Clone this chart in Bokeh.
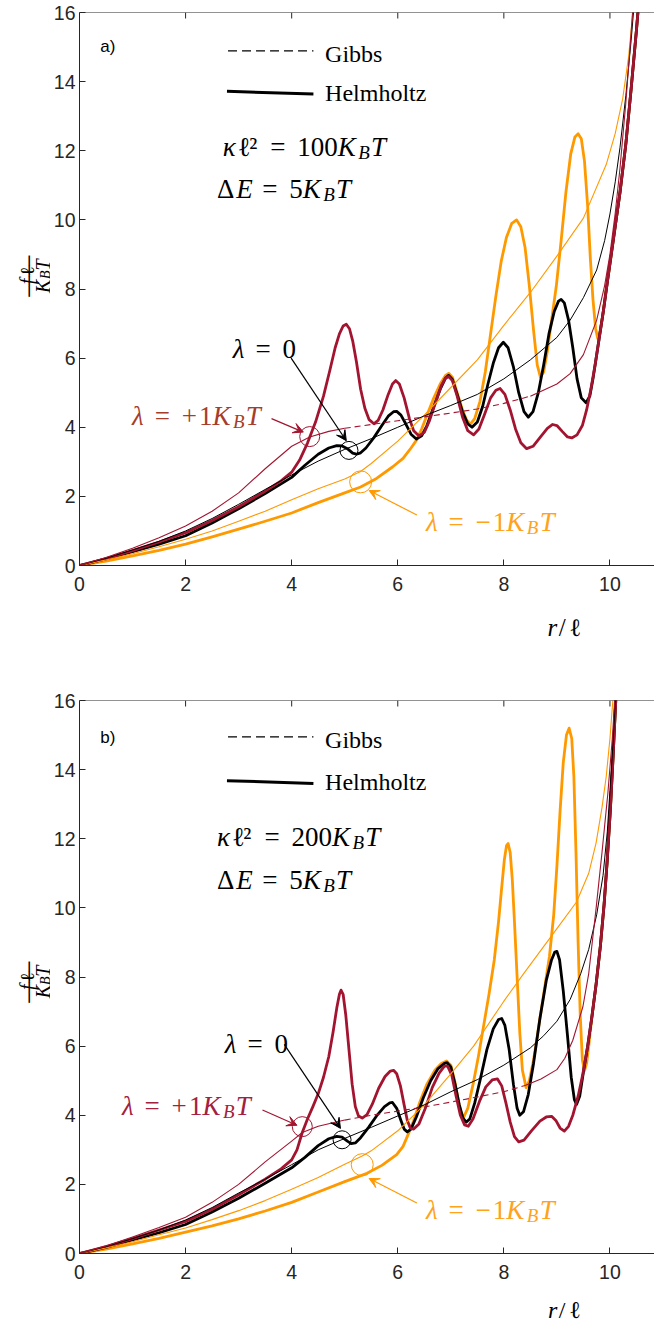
import math
from bokeh.plotting import figure
from bokeh.models import Range1d, Label, Span, Arrow, VeeHead, FixedTicker
from bokeh.layouts import column, row
from bokeh.embed import file_html
from bokeh.resources import INLINE

CRIMSON = "#A2142F"
ORANGE = "#FF9900"
AX = "#262626"
X_END = 10.84
FRAME_W = 578
FRAME_H = 553
XS = FRAME_W / X_END
YS = FRAME_H / 16.0

# ---------------- data ----------------
x_ticks = [0, 2, 4, 6, 8, 10]
y_ticks = [0, 2, 4, 6, 8, 10, 12, 14, 16]

# panel a  (kappa l^2 = 100 KBT)
a_helm_pos = [(0,0),(0.5,0.2),(1,0.43),(1.5,0.68),(2,0.95),(2.5,1.3),(3,1.7),(3.5,2.15),(3.8,2.45),(4.0,2.7),(4.15,3.05),(4.3,3.55),(4.45,4.15),(4.6,4.9),(4.72,5.65),(4.82,6.3),(4.9,6.7),(4.97,6.93),(5.03,6.98),(5.09,6.85),(5.15,6.5),(5.22,5.9),(5.3,5.1),(5.38,4.55),(5.46,4.22),(5.55,4.1),(5.63,4.2),(5.72,4.5),(5.82,4.95),(5.9,5.25),(5.96,5.35),(6.03,5.25),(6.12,4.85),(6.22,4.25),(6.3,3.9),(6.4,3.75),(6.5,3.85),(6.6,4.2),(6.72,4.75),(6.82,5.2),(6.9,5.42),(6.96,5.47),(7.03,5.35),(7.12,4.9),(7.22,4.3),(7.32,3.9),(7.43,3.78),(7.53,3.95),(7.63,4.35),(7.75,4.85),(7.85,5.07),(7.93,5.12),(8.02,4.95),(8.12,4.5),(8.22,3.95),(8.32,3.55),(8.43,3.38),(8.55,3.45),(8.68,3.7),(8.82,3.97),(8.92,4.08),(9.0,4.05),(9.1,3.88),(9.2,3.72),(9.28,3.69),(9.38,3.78),(9.48,4.05),(9.56,4.5),(9.64,5.1),(9.72,5.8),(9.8,6.6),(9.88,7.4),(9.96,8.3),(10.08,9.6),(10.19,10.8),(10.3,12.2),(10.4,13.8),(10.5,15.5),(10.56,16.6)]
a_helm_zero = [(0,0),(0.5,0.19),(1,0.4),(1.5,0.62),(2,0.86),(2.5,1.23),(3,1.64),(3.5,2.08),(4.0,2.55),(4.25,2.9),(4.5,3.22),(4.7,3.4),(4.85,3.47),(4.95,3.46),(5.05,3.38),(5.15,3.25),(5.22,3.22),(5.3,3.26),(5.4,3.4),(5.55,3.7),(5.7,4.05),(5.82,4.32),(5.92,4.45),(5.98,4.46),(6.06,4.35),(6.15,4.1),(6.25,3.8),(6.35,3.66),(6.45,3.75),(6.55,4.05),(6.68,4.6),(6.8,5.1),(6.9,5.42),(6.96,5.5),(7.03,5.38),(7.12,4.95),(7.22,4.45),(7.32,4.1),(7.4,4.0),(7.5,4.15),(7.6,4.6),(7.7,5.25),(7.8,5.85),(7.9,6.3),(7.99,6.46),(8.08,6.3),(8.18,5.75),(8.28,5.0),(8.38,4.45),(8.46,4.29),(8.55,4.45),(8.65,5.0),(8.75,5.8),(8.85,6.7),(8.95,7.35),(9.03,7.65),(9.08,7.7),(9.14,7.6),(9.22,7.1),(9.3,6.3),(9.38,5.4),(9.46,4.85),(9.55,4.71),(9.62,4.9),(9.68,5.4),(9.75,6.1),(9.82,6.8),(9.88,7.4),(9.96,8.3),(10.08,9.6),(10.19,10.8),(10.3,12.2),(10.4,13.8),(10.5,15.5),(10.56,16.6)]
a_helm_neg = [(0,0),(0.5,0.13),(1,0.28),(1.5,0.44),(2,0.62),(2.5,0.83),(3,1.05),(3.5,1.28),(4.0,1.52),(4.5,1.82),(5.0,2.1),(5.3,2.27),(5.6,2.52),(5.9,2.85),(6.1,3.1),(6.25,3.4),(6.35,3.62),(6.45,3.95),(6.55,4.35),(6.68,4.85),(6.8,5.25),(6.9,5.5),(6.96,5.56),(7.03,5.45),(7.12,5.0),(7.22,4.5),(7.3,4.2),(7.37,4.09),(7.45,4.25),(7.55,4.75),(7.65,5.6),(7.75,6.7),(7.85,7.8),(7.95,8.8),(8.05,9.5),(8.15,9.9),(8.24,10.0),(8.32,9.8),(8.4,9.2),(8.48,8.1),(8.56,6.8),(8.63,5.8),(8.69,5.45),(8.75,5.6),(8.82,6.2),(8.9,7.1),(8.99,8.1),(9.08,9.4),(9.17,10.8),(9.26,11.9),(9.34,12.4),(9.4,12.49),(9.46,12.35),(9.52,11.7),(9.58,10.4),(9.63,8.9),(9.68,7.7),(9.73,6.85),(9.77,6.57),(9.81,6.75),(9.86,7.2),(9.92,7.9),(9.98,8.5),(10.08,9.6),(10.19,10.8),(10.3,12.2),(10.4,13.8),(10.5,15.5),(10.56,16.6)]
a_gibbs_pos = [(0,0),(0.5,0.23),(1,0.5),(1.5,0.8),(2,1.14),(2.5,1.57),(3,2.1),(3.5,2.8),(4.0,3.45),(4.34,3.72),(4.7,3.88),(5.0,3.97),(5.5,4.08),(6.0,4.19),(6.5,4.3),(7.0,4.41),(7.5,4.53),(8.0,4.69),(8.5,4.9),(9.0,5.25),(9.25,5.55),(9.5,6.1),(9.75,7.1),(9.9,8.1),(10.0,9.0),(10.1,10.2),(10.19,11.5),(10.3,13.4),(10.38,15.0),(10.44,16.3)]
a_gibbs_zero = [(0,0),(0.5,0.21),(1,0.45),(1.5,0.7),(2,1.0),(2.5,1.36),(3,1.77),(3.5,2.2),(4.0,2.62),(4.5,3.02),(5.0,3.36),(5.5,3.67),(6.0,4.0),(6.5,4.33),(7.0,4.63),(7.5,4.95),(8.0,5.4),(8.5,5.95),(9.0,6.6),(9.25,7.1),(9.5,7.75),(9.75,8.55),(9.9,9.4),(10.0,10.17),(10.1,11.1),(10.19,12.1),(10.3,13.6),(10.4,15.2),(10.46,16.3)]
a_gibbs_neg = [(0,0),(0.5,0.16),(1,0.34),(1.5,0.54),(2,0.76),(2.5,1.0),(3,1.28),(3.5,1.57),(4.0,1.9),(4.5,2.22),(5.0,2.5),(5.3,2.72),(5.5,2.95),(6.0,3.6),(6.5,4.35),(7.0,5.15),(7.5,5.95),(8.0,6.95),(8.5,7.9),(9.0,8.95),(9.5,10.05),(9.93,11.6),(10.1,12.5),(10.24,13.5),(10.35,14.7),(10.45,16.3)]

# panel b  (kappa l^2 = 200 KBT)
b_helm_pos = [(0,0),(0.5,0.2),(1,0.43),(1.5,0.68),(2,0.93),(2.5,1.28),(3,1.7),(3.5,2.15),(3.8,2.45),(4.0,2.71),(4.1,3.0),(4.2,3.5),(4.3,3.9),(4.4,4.25),(4.5,4.62),(4.6,5.1),(4.7,5.7),(4.78,6.4),(4.85,7.1),(4.9,7.5),(4.93,7.62),(4.97,7.5),(5.02,6.9),(5.08,5.9),(5.14,4.9),(5.2,4.25),(5.26,3.98),(5.33,3.92),(5.42,4.02),(5.52,4.32),(5.64,4.78),(5.76,5.12),(5.86,5.28),(5.92,5.3),(5.98,5.2),(6.05,4.85),(6.12,4.3),(6.18,3.85),(6.24,3.62),(6.3,3.6),(6.4,3.75),(6.52,4.2),(6.65,4.8),(6.78,5.22),(6.88,5.42),(6.94,5.42),(7.02,5.15),(7.1,4.55),(7.18,4.0),(7.26,3.72),(7.33,3.68),(7.42,3.9),(7.54,4.4),(7.66,4.82),(7.78,5.02),(7.88,5.05),(7.96,4.85),(8.04,4.35),(8.12,3.8),(8.2,3.38),(8.28,3.23),(8.38,3.28),(8.52,3.55),(8.68,3.83),(8.8,3.95),(8.9,3.97),(8.98,3.85),(9.06,3.63),(9.14,3.54),(9.22,3.68),(9.3,4.0),(9.4,4.55),(9.49,5.2),(9.58,6.0),(9.66,6.85),(9.74,7.8),(9.82,8.9),(9.89,10.1),(9.95,11.4),(10.01,12.9),(10.06,14.4),(10.1,15.7),(10.13,16.6)]
b_helm_zero = [(0,0),(0.5,0.18),(1,0.39),(1.5,0.6),(2,0.84),(2.5,1.2),(3,1.6),(3.5,2.03),(4.0,2.48),(4.25,2.78),(4.5,3.12),(4.7,3.32),(4.85,3.39),(4.95,3.37),(5.05,3.25),(5.12,3.18),(5.2,3.2),(5.3,3.35),(5.45,3.65),(5.6,3.98),(5.75,4.25),(5.85,4.36),(5.9,4.37),(5.98,4.2),(6.06,3.85),(6.12,3.6),(6.18,3.52),(6.25,3.6),(6.35,3.95),(6.48,4.5),(6.62,5.0),(6.76,5.35),(6.88,5.5),(6.93,5.52),(7.0,5.4),(7.08,4.9),(7.16,4.3),(7.23,3.92),(7.29,3.8),(7.36,3.9),(7.45,4.35),(7.55,5.0),(7.68,5.9),(7.8,6.5),(7.9,6.77),(7.96,6.8),(8.02,6.6),(8.1,5.9),(8.18,4.9),(8.25,4.2),(8.3,4.0),(8.37,4.1),(8.46,4.6),(8.56,5.5),(8.68,6.8),(8.8,7.9),(8.9,8.5),(8.96,8.72),(9.0,8.74),(9.05,8.5),(9.12,7.6),(9.2,6.3),(9.27,5.1),(9.33,4.45),(9.37,4.31),(9.43,4.55),(9.5,5.25),(9.58,6.0),(9.66,6.85),(9.74,7.8),(9.82,8.9),(9.89,10.1),(9.95,11.4),(10.01,12.9),(10.06,14.4),(10.1,15.7),(10.13,16.6)]
b_helm_neg = [(0,0),(0.5,0.13),(1,0.28),(1.5,0.44),(2,0.62),(2.5,0.8),(3,1.0),(3.5,1.23),(4.0,1.48),(4.5,1.78),(5.0,2.08),(5.42,2.32),(5.7,2.55),(5.98,2.86),(6.1,3.1),(6.2,3.46),(6.3,3.85),(6.42,4.4),(6.55,4.9),(6.7,5.3),(6.82,5.5),(6.92,5.57),(7.0,5.45),(7.08,4.95),(7.15,4.35),(7.2,4.05),(7.24,3.94),(7.32,4.2),(7.42,4.9),(7.52,5.7),(7.62,6.6),(7.72,7.5),(7.82,8.5),(7.9,9.6),(7.96,10.6),(8.01,11.4),(8.05,11.8),(8.08,11.86),(8.12,11.6),(8.16,10.8),(8.2,9.6),(8.25,8.0),(8.3,6.4),(8.35,5.3),(8.42,4.8),(8.48,5.0),(8.56,5.6),(8.66,6.6),(8.76,7.6),(8.86,8.6),(8.94,9.8),(9.0,11.2),(9.06,12.8),(9.12,14.2),(9.18,15.0),(9.23,15.2),(9.28,14.9),(9.32,13.8),(9.36,11.6),(9.4,9.0),(9.44,6.9),(9.48,5.6),(9.52,5.29),(9.56,5.5),(9.6,6.0),(9.66,6.85),(9.74,7.8),(9.82,8.9),(9.89,10.1),(9.95,11.4),(10.01,12.9),(10.06,14.4),(10.1,15.7),(10.13,16.6)]
b_gibbs_pos = [(0,0),(0.5,0.22),(1,0.48),(1.5,0.75),(2,1.05),(2.5,1.48),(3,2.0),(3.5,2.65),(4.0,3.25),(4.2,3.5),(4.5,3.68),(5.0,3.86),(5.5,4.0),(6.0,4.12),(6.5,4.24),(7.0,4.38),(7.5,4.53),(8.0,4.68),(8.4,4.86),(8.7,5.05),(9.0,5.32),(9.15,5.65),(9.3,6.17),(9.49,7.14),(9.6,8.1),(9.74,10.0),(9.85,11.6),(9.96,13.3),(10.05,15.0),(10.1,16.3)]
b_gibbs_zero = [(0,0),(0.5,0.2),(1,0.43),(1.5,0.68),(2,0.97),(2.5,1.33),(3,1.75),(3.5,2.15),(4.0,2.57),(4.5,3.0),(5.0,3.33),(5.5,3.65),(6.0,3.98),(6.5,4.3),(7.0,4.68),(7.5,5.03),(8.0,5.45),(8.5,5.95),(8.75,6.3),(9.0,6.72),(9.25,7.35),(9.45,8.1),(9.6,8.8),(9.75,9.8),(9.87,10.94),(9.95,12.2),(10.0,13.4),(10.06,14.8),(10.11,16.3)]
b_gibbs_neg = [(0,0),(0.5,0.16),(1,0.34),(1.5,0.54),(2,0.74),(2.5,0.98),(3,1.24),(3.5,1.53),(4.0,1.86),(4.5,2.2),(5.0,2.58),(5.33,2.82),(5.5,2.97),(6.0,3.55),(6.5,4.3),(7.0,5.2),(7.43,6.0),(8.0,7.3),(8.37,8.09),(9.0,9.4),(9.37,10.17),(9.6,11.0),(9.74,11.89),(9.85,12.9),(9.93,13.8),(10.0,14.9),(10.07,16.3)]

# marker circles (x, y) : lambda=+1, 0, -1
a_circles = [(4.34, 3.73), (5.08, 3.33), (5.30, 2.42)]
b_circles = [(4.20, 3.67), (4.95, 3.29), (5.33, 2.57)]
# annotation arrows (x0, y0, x1, y1)
a_arrows = [(3.62, 4.25, 4.22, 3.86), (3.99, 6.0, 5.03, 3.61), (6.36, 1.46, 5.46, 2.17)]
b_arrows = [(3.45, 4.15, 4.10, 3.71), (3.86, 6.05, 4.92, 3.62), (6.36, 1.46, 5.46, 2.17)]

TH = 0.28  # thick math space (em)
kappa_a = [("κ", "i"), ("ℓ", "n"), ("²", "n"), (TH, "g"), ("=", "n"), (TH, "g"), ("100", "n"), ("K", "i"), ("B", "s"), ("T", "i")]
kappa_b = [("κ", "i"), ("ℓ", "n"), ("²", "n"), (TH, "g"), ("=", "n"), (TH, "g"), ("200", "n"), ("K", "i"), ("B", "s"), ("T", "i")]
delta_e = [("Δ", "n"), ("E", "i"), (TH, "g"), ("=", "n"), (TH, "g"), ("5", "n"), ("K", "i"), ("B", "s"), ("T", "i")]
lam_zero = [("λ", "i"), (TH, "g"), ("=", "n"), (TH, "g"), ("0", "n")]
lam_pos = [("λ", "i"), (TH, "g"), ("=", "n"), (TH, "g"), ("+", "n"), ("1", "n"), ("K", "i"), ("B", "s"), ("T", "i")]
lam_neg = [("λ", "i"), (TH, "g"), ("=", "n"), (TH, "g"), ("−", "n"), ("1", "n"), ("K", "i"), ("B", "s"), ("T", "i")]
ylab_num = [("f", "i"), ("ℓ", "n")]
ylab_den = [("K", "i"), ("B", "s"), ("T", "i")]
xlab = [("r", "i"), ("/", "n"), ("ℓ", "n")]

# advance widths (em)
W_N = {"=": 0.72, "+": 0.64, "−": 0.64, "Δ": 0.72, "ℓ": 0.42, "²": 0.36, "/": 0.42}
W_I = {"κ": 0.56, "λ": 0.56, "K": 0.76, "T": 0.6, "B": 0.68, "E": 0.68, "f": 0.45, "r": 0.45}
MATH_FONT = "Liberation Serif"


def cw(ch, st):
    if ch.isdigit():
        return 0.5
    return (W_I if st in ("i", "s") else W_N).get(ch, 0.55)


def run_width(runs, size):
    tot = 0.0
    for t, st in runs:
        if st == "g":
            tot += t * size
            continue
        s = size * 0.7 if st == "s" else size
        for ch in t:
            tot += cw(ch, st) * s
    return tot


def math_label(p, x, yc, runs, size, color, xs=XS, ys=YS, center=False):
    if center:
        x = x - run_width(runs, size) / 2.0 / xs
    base = yc - 0.33 * size / ys
    off = 0.0
    for t, st in runs:
        if st == "g":
            off += t * size
            continue
        s = size * 0.7 if st == "s" else size
        yb = base - 0.2 * size / ys if st == "s" else base
        for ch in t:
            p.add_layout(Label(x=x, y=yb, x_offset=off, text=ch, text_font=MATH_FONT,
                               text_font_size=f"{s:.1f}px",
                               text_font_style="italic" if st in ("i", "s") else "normal",
                               text_color=color, text_align="left", text_baseline="alphabetic"))
            off += cw(ch, st) * s


def math_label_rot(p, xc, yc, runs, size, color):
    # pixel-unit figure, text rotated 90 degrees counter-clockwise
    total = run_width(runs, size)
    xb = xc + 0.33 * size
    y = yc - total / 2.0
    for t, st in runs:
        if st == "g":
            y += t * size
            continue
        s = size * 0.7 if st == "s" else size
        xx = xb + 0.12 * size if st == "s" else xb
        for ch in t:
            p.add_layout(Label(x=xx, y=y, angle=math.pi / 2, text=ch, text_font=MATH_FONT,
                               text_font_size=f"{s:.1f}px",
                               text_font_style="italic" if st in ("i", "s") else "normal",
                               text_color=color, text_align="left", text_baseline="alphabetic"))
            y += cw(ch, st) * s


def plain_label(p, x, yc, text, size, color, font=MATH_FONT):
    p.add_layout(Label(x=x, y=yc - 0.33 * size / YS, text=text, text_font=font,
                       text_font_size=f"{size}px", text_color=color,
                       text_align="left", text_baseline="alphabetic"))


def line_pts(p, pts, color, width, dash="solid"):
    p.line([q[0] for q in pts], [q[1] for q in pts], line_color=color, line_width=width,
           line_dash=dash, line_join="round")


def split_dashed(pts, x0, x1):
    i0 = next(i for i, q in enumerate(pts) if q[0] >= x0)
    i1 = max(i for i, q in enumerate(pts) if q[0] <= x1)
    return pts[:i0 + 1], pts[i0:i1 + 1], pts[i1:]


def blank_fig(w, h):
    f = figure(width=w, height=h, x_range=Range1d(0, w), y_range=Range1d(0, h), title=None,
               output_backend="svg", toolbar_location=None, min_border=0)
    f.xaxis.visible = False
    f.yaxis.visible = False
    f.outline_line_color = None
    f.grid.visible = False
    return f


def make_panel(height, top, bottom, data, circles, arrows, txt):
    p = figure(width=604, height=height, x_range=Range1d(0, X_END), y_range=Range1d(0, 16), title=None,
               output_backend="svg", toolbar_location=None,
               min_border_left=26, min_border_right=0, min_border_top=top, min_border_bottom=bottom)
    p.outline_line_color = None
    p.grid.visible = False
    for ax, ticks in ((p.xaxis, x_ticks), (p.yaxis, y_ticks)):
        ax.ticker = FixedTicker(ticks=ticks)
        ax.major_tick_in = 6
        ax.major_tick_out = 0
        ax.minor_tick_line_color = None
        ax.axis_line_color = AX
        ax.major_tick_line_color = AX
        ax.major_label_text_font = "Liberation Sans"
        ax.major_label_text_font_size = "19.5px"
        ax.major_label_text_color = AX
    p.xaxis.major_label_standoff = 11
    p.yaxis.major_label_standoff = 4
    p.add_layout(Span(location=16, dimension="width", line_color=AX, line_width=1))
    p.ray(x=x_ticks[1:], y=[16] * 5, length=6, length_units="screen", angle=-math.pi / 2,
          line_color=AX, line_width=1)

    helm_pos, helm_zero, helm_neg, gibbs_pos, gibbs_zero, gibbs_neg = data
    line_pts(p, helm_neg, ORANGE, 2.8)
    line_pts(p, helm_zero, "black", 2.8)
    line_pts(p, helm_pos, CRIMSON, 2.8)
    line_pts(p, gibbs_neg, ORANGE, 1.1)
    line_pts(p, gibbs_zero, "black", 1.0)
    s1, dsh, s2 = split_dashed(gibbs_pos, 5.0, 8.5)
    line_pts(p, s1, CRIMSON, 1.1)
    line_pts(p, dsh, CRIMSON, 1.1, "6 4")
    line_pts(p, s2, CRIMSON, 1.1)

    cols = [CRIMSON, "black", ORANGE]
    sizes = [20, 18, 22]
    for (cx, cy), c, s in zip(circles, cols, sizes):
        p.scatter([cx], [cy], size=s, marker="circle", fill_color=None, line_color=c, line_width=1)
    for (x0, y0, x1, y1), c in zip(arrows, cols):
        p.add_layout(Arrow(end=VeeHead(size=10, fill_color=c, line_color=c, line_width=1),
                           x_start=x0, y_start=y0, x_end=x1, y_end=y1, line_color=c, line_width=1.2))

    # legend
    p.line([2.8, 4.41], [txt["gy"] - 0.14, txt["gy"] - 0.14], line_color="black", line_width=1.2, line_dash="9 5")
    p.line([2.78, 4.41], [txt["hy"] - 0.18, txt["hy"] - 0.26], line_color="black", line_width=3)
    plain_label(p, 4.63, txt["gy"], "Gibbs", 24, "black")
    plain_label(p, 4.63, txt["hy"], "Helmholtz", 24, "black")
    p.add_layout(Label(x=0.39, y=txt["py"], text=txt["panel"], text_font="Liberation Sans",
                       text_font_size="17px", text_color="black", text_baseline="middle", text_align="left"))
    math_label(p, txt["kx"], txt["ky"], txt["kappa"], 27, "black")
    math_label(p, 2.59, txt["dy"], delta_e, 27, "black")
    math_label(p, txt["l0x"], txt["l0y"], lam_zero, 27, "black")
    math_label(p, txt["lpx"], txt["lpy"], lam_pos, 27, txt["lpc"])
    math_label(p, 6.53, 1.51, lam_neg, 27, "#FFA31A")
    return p


def ylabel_fig(h, yc):
    f = blank_fig(50, h)
    math_label_rot(f, 20, yc, ylab_num, 20, "black")
    math_label_rot(f, 36, yc, ylab_den, 20, "black")
    f.add_layout(Label(x=28, y=yc, angle=math.pi / 2, text="────",
                       text_font="DejaVu Sans Mono", text_font_size="17px", text_color="black",
                       text_align="center", text_baseline="middle"))
    return f


def xlabel_fig(h, yc, size):
    f = blank_fig(654, h)
    math_label(f, 563, yc, xlab, size, "black", xs=1.0, ys=1.0, center=True)
    return f


txt_a = dict(panel="a)", py=15.03, gy=15.03, hy=13.9, kx=2.7, ky=12.37, kappa=kappa_a, dy=11.14,
             l0x=2.89, l0y=6.51, lpx=0.99, lpy=4.57, lpc="#A63D2A")
txt_b = dict(panel="b)", py=14.94, gy=15.09, hy=13.86, kx=2.59, ky=12.31, kappa=kappa_b, dy=11.06,
             l0x=2.74, l0y=6.33, lpx=0.80, lpy=4.52, lpc="#A3203E")

pa = make_panel(605, 12, 40, (a_helm_pos, a_helm_zero, a_helm_neg, a_gibbs_pos, a_gibbs_zero, a_gibbs_neg),
                a_circles, a_arrows, txt_a)
pb = make_panel(631, 45, 33, (b_helm_pos, b_helm_zero, b_helm_neg, b_gibbs_pos, b_gibbs_zero, b_gibbs_neg),
                b_circles, b_arrows, txt_b)

layout = column(
    row(ylabel_fig(605, 316.5), pa, spacing=0),
    xlabel_fig(50, 36, 25),
    row(ylabel_fig(631, 309.5), pb, spacing=0),
    xlabel_fig(34, 18, 24),
    spacing=0,
)
open("out.html", "w").write(file_html(layout, INLINE))
